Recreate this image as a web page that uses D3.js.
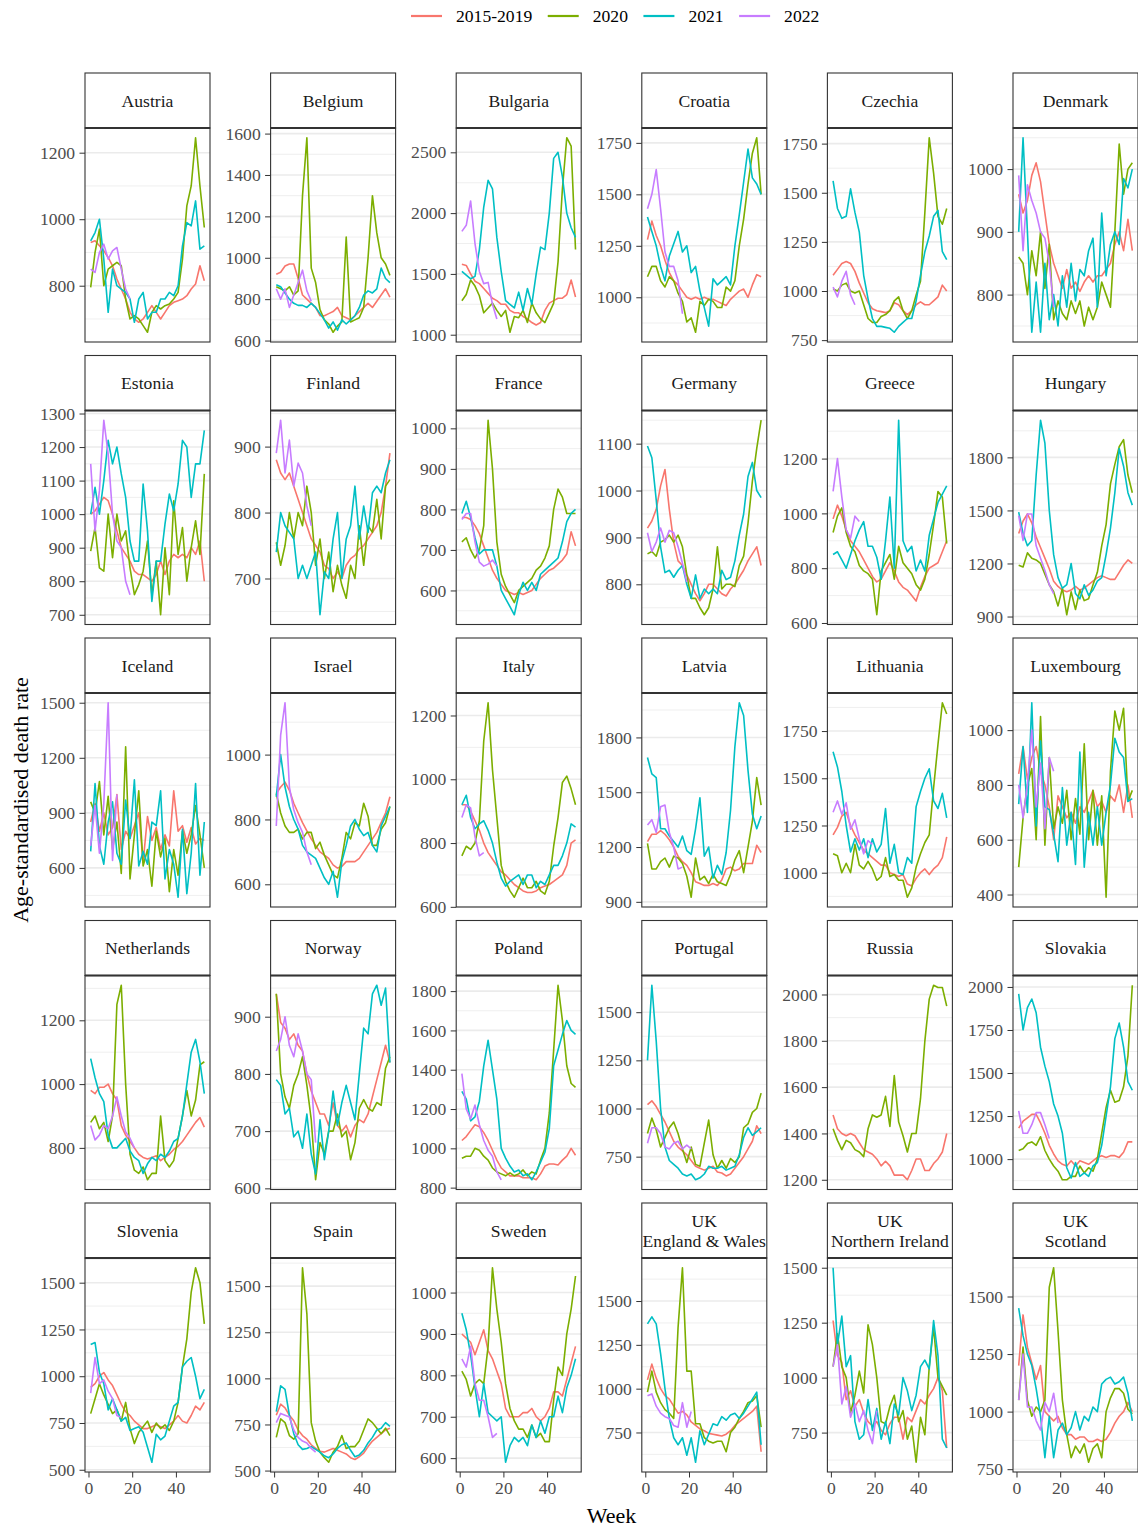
<!DOCTYPE html>
<meta charset="utf-8">
<style>

body {
  margin: 0;
  background: #ffffff;
}

svg {
  display: block;
  font-family: "Liberation Serif", "Times New Roman", serif;
}

.axis .tick text {
  font-size: 17.6px;
  fill: #4d4d4d;
}

.axis .tick line {
  stroke: #333333;
  stroke-width: 1;
}

.strip-text {
  font-size: 17.6px;
  fill: #1a1a1a;
  text-anchor: middle;
}

</style>
<svg width="1138" height="1530"></svg>
<script src="https://cdn.jsdelivr.net/npm/d3@7/dist/d3.min.js"></script>
<script>

// weeks sampled every second week
const weeks = [1,3,5,7,9,11,13,15,17,19,21,23,25,27,29,31,33,35,37,39,41,43,45,47,49,51,53];

const countries = ["Austria","Belgium","Bulgaria","Croatia","Czechia","Denmark",
  "Estonia","Finland","France","Germany","Greece","Hungary",
  "Iceland","Israel","Italy","Latvia","Lithuania","Luxembourg",
  "Netherlands","Norway","Poland","Portugal","Russia","Slovakia",
  "Slovenia","Spain","Sweden","UK\nEngland & Wales","UK\nNorthern Ireland","UK\nScotland"];

const seriesNames = ["2015-2019","2020","2021","2022"];
const seriesColours = ["#F8766D","#7CAE00","#00BFC4","#C77CFF"];

const rate2015_19 = {
  "Austria": [930,935,920,905,885,860,820,790,760,720,700,690,700,720,740,720,700,720,740,750,755,760,770,790,805,860,815],
  "Belgium": [920,930,960,970,970,900,820,800,780,760,720,720,730,740,760,720,710,700,720,740,760,780,760,790,820,850,810],
  "Bulgaria": [1580,1570,1500,1440,1420,1380,1340,1300,1280,1250,1250,1200,1180,1180,1150,1130,1100,1080,1100,1200,1260,1280,1300,1300,1330,1450,1310],
  "Croatia": [1280,1370,1300,1250,1180,1120,1080,1060,1030,1000,990,1000,990,1000,990,990,980,970,960,990,1010,1030,1040,1000,1060,1110,1100],
  "Czechia": [1080,1110,1140,1150,1140,1100,1040,990,940,910,900,895,890,900,940,930,900,880,900,930,945,930,930,950,970,1030,1000],
  "Denmark": [960,930,950,990,1010,980,930,880,850,830,810,840,810,820,805,820,830,820,830,830,840,850,880,900,870,920,870],
  "Estonia": [1000,1010,1030,1050,1040,1000,950,900,880,860,830,820,820,810,800,820,860,820,860,880,870,880,870,900,880,920,800],
  "Finland": [880,860,850,860,840,820,800,780,760,750,740,720,715,700,710,700,720,730,735,745,750,760,770,780,800,840,890],
  "France": [780,780,775,760,740,710,680,650,630,615,600,595,590,595,590,595,600,615,630,640,650,655,665,675,690,745,710],
  "Germany": [920,935,960,1010,1045,960,890,850,840,820,800,780,765,780,800,800,790,780,775,790,800,815,830,850,865,880,840],
  "Greece": [980,1030,990,940,900,880,860,830,800,770,750,760,790,820,790,750,730,720,700,680,730,770,800,810,820,860,900],
  "Hungary": [1370,1440,1480,1430,1350,1290,1230,1170,1100,1070,1050,1040,1050,1070,1050,1060,1080,1100,1120,1130,1120,1110,1110,1150,1190,1220,1200],
  "Iceland": [850,950,800,900,780,820,1000,700,800,760,830,900,630,880,750,820,700,780,720,1020,800,830,740,820,730,760,750],
  "Israel": [880,900,915,890,850,820,790,765,740,720,700,690,680,660,650,655,670,670,670,680,700,720,740,760,790,820,870],
  "Italy": [920,920,900,870,840,800,770,750,730,710,700,685,670,660,650,645,645,650,660,665,670,680,690,700,730,800,810],
  "Latvia": [1230,1270,1270,1290,1270,1240,1200,1150,1120,1100,1060,1010,1000,990,990,1000,990,1020,1080,1090,1070,1080,1110,1110,1110,1210,1170],
  "Lithuania": [1200,1240,1300,1320,1250,1200,1160,1120,1100,1080,1060,1040,1040,1000,990,980,990,940,930,970,1000,1020,990,1020,1040,1080,1190],
  "Luxembourg": [840,940,820,900,940,850,800,720,600,760,720,680,700,660,720,700,740,780,720,740,700,760,740,800,700,800,680],
  "Netherlands": [980,970,990,990,1000,970,950,870,840,820,800,780,770,765,770,775,760,770,780,795,805,820,840,860,880,895,865],
  "Norway": [940,890,880,860,870,850,840,800,770,750,730,730,710,750,710,700,710,690,710,720,715,730,760,790,820,850,820],
  "Poland": [1040,1060,1090,1120,1110,1080,1040,990,940,900,880,860,860,860,850,850,850,840,870,910,920,920,915,940,960,1000,965],
  "Portugal": [1020,1040,1010,970,930,880,830,800,780,760,730,700,690,680,690,700,670,665,650,660,690,720,750,790,830,910,870],
  "Russia": [1480,1420,1400,1390,1400,1390,1360,1330,1320,1310,1290,1260,1280,1260,1220,1220,1220,1200,1240,1290,1290,1240,1240,1270,1290,1320,1400],
  "Slovakia": [1180,1220,1240,1260,1260,1210,1150,1080,1030,990,970,960,990,960,990,980,970,990,1010,1020,1010,1020,1020,1010,1040,1100,1100],
  "Slovenia": [940,960,1000,1020,980,950,900,850,810,790,760,740,720,720,730,740,730,720,740,760,790,760,750,790,840,820,860],
  "Spain": [800,860,840,800,770,720,690,670,640,620,605,600,610,620,610,600,590,570,560,575,595,630,660,680,700,720,730],
  "Sweden": [900,890,880,850,880,910,860,840,810,780,720,700,700,700,710,710,720,700,690,700,720,760,760,750,790,830,870],
  "UK\nEngland & Wales": [1050,1140,1060,1000,960,940,900,860,870,850,810,790,770,760,745,740,735,730,740,760,790,810,830,850,870,900,640],
  "UK\nNorthern Ireland": [1260,1100,1070,900,940,870,900,840,800,780,800,760,740,790,820,820,720,820,800,850,900,880,920,950,1000,940,680],
  "UK\nScotland": [1200,1420,1280,1210,1140,1200,1000,980,960,980,930,900,900,880,890,890,870,870,880,870,880,910,950,980,1000,1040,1000]
};

const rate2020 = {
  "Austria": [795,900,970,800,850,860,870,860,760,700,710,700,680,660,720,740,730,740,745,760,780,880,1040,1100,1245,1100,975],
  "Belgium": [860,850,840,860,820,840,1300,1580,950,880,750,700,680,640,670,690,1100,690,700,710,760,1000,1300,1120,1000,970,915],
  "Bulgaria": [1280,1330,1450,1400,1320,1180,1220,1260,1200,1150,1200,1020,1150,1140,1200,1100,1260,1180,1130,1100,1180,1260,1600,2200,2620,2550,1700],
  "Croatia": [1100,1150,1150,1080,1050,1100,1080,1020,980,880,900,830,980,960,990,980,950,950,1050,1030,1080,1250,1380,1550,1700,1775,1500],
  "Czechia": [1010,1000,1030,1040,1000,990,1000,930,860,840,840,870,880,900,950,970,900,860,900,980,1050,1400,1780,1600,1380,1340,1420],
  "Denmark": [860,850,800,870,830,900,810,880,760,790,770,760,790,770,790,750,780,760,780,820,800,780,900,1040,960,1000,1010],
  "Estonia": [890,960,840,830,1000,870,1000,920,950,840,760,790,830,920,760,860,700,900,760,1040,880,960,800,900,980,880,1120],
  "Finland": [755,720,750,800,760,800,780,840,800,720,760,700,740,680,720,690,670,720,700,780,720,780,770,820,760,840,850],
  "France": [720,730,700,680,700,760,1020,900,720,640,610,590,570,600,610,620,630,650,660,680,710,800,850,830,790,790,790],
  "Germany": [865,870,860,890,895,905,890,905,880,820,770,770,750,735,750,790,880,790,800,800,795,840,860,930,1020,1090,1150],
  "Greece": [930,990,1020,930,880,860,810,790,780,760,630,790,820,850,760,880,820,800,780,740,720,760,850,960,1080,1060,890],
  "Hungary": [1190,1180,1260,1230,1220,1200,1140,1080,1040,960,1060,910,1040,940,1050,990,1000,1080,1150,1300,1420,1650,1760,1860,1900,1700,1600],
  "Iceland": [960,900,1070,780,990,700,850,570,1260,540,780,1020,610,700,500,800,660,760,470,700,560,800,680,780,940,780,600],
  "Israel": [880,820,780,760,760,770,740,760,760,710,730,690,660,630,620,680,760,740,790,780,850,810,720,720,770,790,840],
  "Italy": [760,790,780,800,870,1120,1240,1030,880,730,680,650,630,660,690,660,660,680,650,640,680,790,880,990,1010,970,920],
  "Latvia": [1220,1080,1080,1120,1140,1090,1150,1140,1110,1040,925,1140,1020,1040,1000,1050,1010,1000,990,1050,1130,1180,1060,1200,1340,1580,1430],
  "Lithuania": [1100,1090,1000,1050,1000,1150,1040,1020,1060,1020,960,980,1080,980,990,960,960,870,920,1030,1100,1160,1200,1450,1680,1900,1840],
  "Luxembourg": [500,680,800,860,600,1050,580,900,640,720,660,780,600,750,620,950,600,780,580,760,390,850,1070,1000,1080,740,780],
  "Netherlands": [880,900,860,880,820,900,1250,1310,1000,780,730,720,740,700,720,720,900,760,740,760,830,900,980,900,950,1060,1070],
  "Norway": [940,800,760,740,780,800,830,780,720,615,680,660,700,700,730,690,700,650,680,740,755,740,735,750,745,810,830],
  "Poland": [950,960,960,1000,990,960,940,900,880,870,860,875,860,870,890,860,880,870,940,1000,1180,1500,1830,1650,1420,1330,1310],
  "Portugal": [870,950,890,800,850,900,930,870,790,720,800,710,700,820,940,760,690,730,690,740,720,750,900,920,980,1000,1080],
  "Russia": [1420,1370,1330,1370,1360,1330,1320,1300,1420,1480,1470,1480,1560,1430,1650,1450,1390,1320,1400,1400,1550,1800,1980,2040,2030,2030,1950],
  "Slovakia": [1050,1060,1090,1100,1080,1130,1050,1000,960,930,880,880,900,900,960,920,950,930,1000,1150,1300,1400,1330,1340,1420,1600,2010],
  "Slovenia": [800,880,960,900,850,800,820,760,860,720,640,700,730,760,700,750,720,740,710,760,860,1050,1200,1450,1580,1500,1280],
  "Spain": [680,780,760,690,670,700,1600,1350,760,660,600,570,545,600,630,690,620,630,630,660,720,780,760,730,700,730,690],
  "Sweden": [810,790,750,780,790,780,870,1060,960,880,780,720,690,670,670,650,680,650,660,640,640,740,820,800,900,960,1040],
  "UK\nEngland & Wales": [980,1100,980,920,880,860,830,1350,1690,1100,1100,800,800,720,700,690,700,700,640,750,780,830,870,920,930,960,780],
  "UK\nNorthern Ireland": [1050,1200,1050,1000,840,920,1030,930,1240,1150,1000,800,790,870,920,800,850,720,780,615,820,740,1050,1230,1000,960,920],
  "UK\nScotland": [1050,1280,1050,980,1020,1000,1050,1540,1625,1350,1050,900,800,850,820,860,780,840,860,800,1000,1060,1100,1100,1080,1010,990]
};

const rate2021 = {
  "Austria": [935,960,1000,880,720,850,800,790,780,760,690,760,780,700,720,720,760,760,780,770,800,920,990,980,1055,910,920],
  "Belgium": [870,860,830,800,780,770,770,760,780,760,730,700,660,690,650,700,680,700,720,760,820,840,830,850,950,900,880],
  "Bulgaria": [1520,1490,1460,1480,1700,2050,2270,2200,1800,1520,1280,1250,1220,1350,1200,1380,1250,1500,1720,1700,2000,2450,2500,2300,2000,1880,1800],
  "Croatia": [1390,1320,1250,1150,1080,1200,1260,1320,1220,1250,1120,1150,1030,950,860,1090,1060,1080,1100,1060,1250,1400,1560,1720,1580,1550,1500],
  "Czechia": [1560,1420,1370,1380,1520,1400,1300,1080,960,860,820,820,815,810,790,820,840,860,860,950,1080,1200,1280,1380,1410,1200,1160],
  "Denmark": [900,1050,900,740,820,740,850,760,800,750,830,780,850,790,840,830,870,890,780,930,830,880,900,880,985,970,1000],
  "Estonia": [1000,1080,1000,1100,1220,1150,1200,1120,1050,920,860,860,1090,950,740,860,860,970,1060,1010,1090,1220,1200,1050,1150,1150,1250],
  "Finland": [740,800,780,770,760,700,720,700,720,740,645,710,700,760,800,700,760,780,840,760,810,770,830,840,830,860,880],
  "France": [790,820,780,730,690,700,700,700,660,600,580,560,540,590,620,600,620,600,640,650,660,670,680,720,770,790,800],
  "Germany": [1095,1070,980,880,825,830,815,830,840,800,770,820,770,790,780,790,780,830,810,815,850,905,950,1030,1060,1000,985],
  "Greece": [850,860,830,800,850,900,940,970,880,880,840,760,900,1060,800,1340,900,860,880,790,830,790,920,980,1040,1070,1100],
  "Hungary": [1490,1370,1300,1330,1700,2010,1880,1500,1250,1120,1060,1080,1200,1030,1000,1080,1020,1050,1100,1120,1250,1400,1600,1850,1750,1600,1530],
  "Iceland": [690,1060,720,620,850,960,680,620,970,760,1080,610,690,620,850,830,1020,540,700,620,440,810,460,680,1060,560,850],
  "Israel": [870,1000,900,840,800,770,720,700,690,680,650,620,600,640,560,670,720,780,800,770,750,760,720,700,780,810,840],
  "Italy": [920,950,880,845,860,870,840,800,740,690,665,680,690,700,670,700,700,660,680,670,700,730,730,760,800,860,850],
  "Latvia": [1690,1600,1580,1300,1300,1260,1230,1200,1260,1180,1160,1300,1470,1150,1200,1030,1100,1050,1170,1400,1750,1990,1920,1620,1380,1300,1370],
  "Lithuania": [1640,1560,1430,1250,1110,1180,1120,1180,1080,1180,1110,1150,1340,1050,1150,1000,990,1080,1050,1350,1430,1500,1550,1380,1340,1420,1290],
  "Luxembourg": [730,940,700,1100,650,960,720,710,620,520,790,580,700,510,920,500,700,580,720,580,700,800,970,920,900,740,750],
  "Netherlands": [1080,1020,970,945,840,800,800,815,830,790,770,760,720,750,770,760,780,770,790,820,830,900,1000,1100,1140,1070,970],
  "Norway": [790,780,730,740,690,700,670,730,660,625,720,650,700,770,710,750,780,750,720,800,880,870,940,955,920,950,820],
  "Poland": [1290,1250,1140,1160,1240,1420,1550,1400,1250,1000,950,910,880,890,860,870,840,880,930,980,1100,1420,1500,1580,1650,1600,1580],
  "Portugal": [1250,1640,1350,1000,800,730,710,690,660,650,660,630,640,660,700,690,690,700,680,690,700,760,850,900,860,880,900],
  "Slovakia": [1960,1750,1880,1930,1850,1650,1540,1450,1320,1250,1150,950,890,980,900,920,900,960,980,1080,1250,1420,1700,1790,1650,1450,1400],
  "Slovenia": [1170,1180,1020,960,820,880,820,760,780,710,720,730,700,620,540,690,660,680,760,840,860,1050,1080,1100,1000,880,930],
  "Spain": [820,960,940,800,700,640,615,620,630,615,600,580,570,590,620,640,650,610,575,585,610,650,680,720,730,760,740],
  "Sweden": [950,910,850,770,700,780,710,700,690,700,590,630,650,640,650,630,680,650,690,660,700,700,750,710,770,800,840],
  "UK\nEngland & Wales": [1370,1410,1370,1200,1000,830,720,680,720,620,720,580,760,680,740,800,790,840,820,850,860,830,860,900,940,980,680],
  "UK\nNorthern Ireland": [1500,1150,1280,1050,1100,800,720,740,900,760,860,720,800,700,880,830,1000,940,850,920,1050,1080,1040,1260,1100,720,680],
  "UK\nScotland": [1450,1330,1250,1200,1100,980,800,980,800,920,950,900,930,1000,920,980,960,1020,1000,1120,1140,1150,1120,1130,1150,1080,960]
};

// 2022 only covers the first weeks of the year
const rate2022 = {
  "Austria": [850,840,900,925,880,905,915,850,790,760],
  "Belgium": [850,800,850,760,820,880,940,840,790],
  "Bulgaria": [1850,1900,2100,1750,1520,1420,1430,1250,1130],
  "Croatia": [1430,1500,1620,1430,1220,1150,1150,1080,920],
  "Czechia": [1020,970,1050,1100,980,930],
  "Denmark": [990,870,975,950,930,900,890,850,780],
  "Estonia": [1150,950,1070,1280,1180,1000,920,900,800,760],
  "Finland": [890,940,860,910,840,875,860,810,780],
  "France": [775,790,790,720,670,660,665,675,660],
  "Germany": [910,870,890,920,890,915,910,880,845,805],
  "Greece": [1080,1200,1060,940,910,990,970],
  "Hungary": [1470,1330,1480,1480,1300,1230,1160,1080,1030],
  "Iceland": [720,940,680,950,1500,640,1000],
  "Israel": [780,1060,1160,900,830,790,760,700,660],
  "Italy": [880,920,910,820,760,770],
  "Latvia": [1320,1350,1280,1420,1430,1280,1200,1080,1090],
  "Lithuania": [1320,1380,1310,1370,1230,1280,1180,1100,1170,1150],
  "Luxembourg": [800,680,800,1000,720,880,640,900,850],
  "Netherlands": [870,825,840,870,860,900,960,900,850,830,800],
  "Norway": [840,860,900,850,830,870,840,800,790,680],
  "Poland": [1380,1200,1150,1220,1120,1040,990,960,880,840],
  "Portugal": [820,900,900,870,800,790,820,830,790,810,790],
  "Slovakia": [1280,1150,1150,1200,1270,1270,1200,1120],
  "Slovenia": [910,1100,960,980,920,880,790,780],
  "Spain": [760,810,800,790,720,680,660,650,620,600],
  "Sweden": [840,820,870,780,740,740,700,650,660],
  "UK\nEngland & Wales": [960,970,900,860,840,830,790,780,920,780,870],
  "UK\nNorthern Ireland": [1050,1150,880,960,820,880,800,850,760,700,850],
  "UK\nScotland": [1050,1250,1020,1020,960,920,1040,1000,1080,950]
};

const yBreaks = {
  "Austria": [800,1000,1200],
  "Belgium": [600,800,1000,1200,1400,1600],
  "Bulgaria": [1000,1500,2000,2500],
  "Croatia": [1000,1250,1500,1750],
  "Czechia": [750,1000,1250,1500,1750],
  "Denmark": [800,900,1000],
  "Estonia": [700,800,900,1000,1100,1200,1300],
  "Finland": [700,800,900],
  "France": [600,700,800,900,1000],
  "Germany": [800,900,1000,1100],
  "Greece": [600,800,1000,1200],
  "Hungary": [900,1200,1500,1800],
  "Iceland": [600,900,1200,1500],
  "Israel": [600,800,1000],
  "Italy": [600,800,1000,1200],
  "Latvia": [900,1200,1500,1800],
  "Lithuania": [1000,1250,1500,1750],
  "Luxembourg": [400,600,800,1000],
  "Netherlands": [800,1000,1200],
  "Norway": [600,700,800,900],
  "Poland": [800,1000,1200,1400,1600,1800],
  "Portugal": [750,1000,1250,1500],
  "Russia": [1200,1400,1600,1800,2000],
  "Slovakia": [1000,1250,1500,1750,2000],
  "Slovenia": [500,750,1000,1250,1500],
  "Spain": [500,750,1000,1250,1500],
  "Sweden": [600,700,800,900,1000],
  "UK\nEngland & Wales": [750,1000,1250,1500],
  "UK\nNorthern Ireland": [750,1000,1250,1500],
  "UK\nScotland": [750,1000,1250,1500]
};

const xBreaks = [0,20,40];

const allSeries = [rate2015_19, rate2020, rate2021, rate2022];

const svg = d3.select("svg");

const left0 = 85, top0 = 73;
const colStep = 185.6, rowStep = 282.5;
const panelW = 125, stripH = 55, plotH = 214;
const nCols = 6;

// legend
const legend = svg.append("g");
let lx = 411;
seriesNames.forEach((name, i) => {
  legend.append("line")
    .attr("x1", lx).attr("x2", lx + 31)
    .attr("y1", 16).attr("y2", 16)
    .attr("stroke", seriesColours[i])
    .attr("stroke-width", 2.2);
  const t = legend.append("text")
    .attr("x", lx + 45).attr("y", 16)
    .attr("dominant-baseline", "central")
    .attr("font-size", "17.6px")
    .attr("fill", "#000")
    .text(name);
  lx = lx + 45 + t.node().getComputedTextLength() + 15.5;
});

countries.forEach((country, i) => {
  const col = i % nCols, row = Math.floor(i / nCols);
  const px = left0 + col * colStep;
  const sy = top0 + row * rowStep;
  const py = sy + stripH;
  const g = svg.append("g");

  const values = allSeries.flatMap(s => s[country] || []);
  const [lo, hi] = d3.extent(values);
  const pad = (hi - lo) * 0.05;
  const xPad = (weeks[weeks.length - 1] - weeks[0]) * 0.05;

  const x = d3.scaleLinear()
    .domain([weeks[0] - xPad, weeks[weeks.length - 1] + xPad])
    .range([px, px + panelW]);
  const y = d3.scaleLinear()
    .domain([lo - pad, hi + pad])
    .range([py + plotH, py]);

  const breaks = yBreaks[country].filter(b => b >= y.domain()[0] && b <= y.domain()[1]);
  const step = yBreaks[country][1] - yBreaks[country][0];
  const minor = [yBreaks[country][0] - step / 2].concat(yBreaks[country].map(b => b + step / 2))
    .filter(v => v > y.domain()[0] && v < y.domain()[1]);

  g.append("rect")
    .attr("x", px).attr("y", py)
    .attr("width", panelW).attr("height", plotH)
    .attr("fill", "#ffffff");

  g.selectAll(".minor").data(minor).join("line")
    .attr("class", "minor")
    .attr("x1", px).attr("x2", px + panelW)
    .attr("y1", d => y(d)).attr("y2", d => y(d))
    .attr("stroke", "#ebebeb")
    .attr("stroke-width", 0.8);

  g.selectAll(".major").data(breaks).join("line")
    .attr("class", "major")
    .attr("x1", px).attr("x2", px + panelW)
    .attr("y1", d => y(d)).attr("y2", d => y(d))
    .attr("stroke", "#ebebeb")
    .attr("stroke-width", 1.6);

  const line = d3.line()
    .x(d => x(d[0]))
    .y(d => y(d[1]));

  allSeries.forEach((s, k) => {
    const vals = s[country];
    if (!vals) return;
    const pts = vals.map((v, j) => [weeks[j], v]).filter(d => d[0] !== undefined);
    g.append("path")
      .datum(pts)
      .attr("d", line)
      .attr("fill", "none")
      .attr("stroke", seriesColours[k])
      .attr("stroke-width", 1.6)
      .attr("stroke-linejoin", "round");
  });

  g.append("rect")
    .attr("x", px).attr("y", py)
    .attr("width", panelW).attr("height", plotH)
    .attr("fill", "none")
    .attr("stroke", "#333333")
    .attr("stroke-width", 1.1);

  // strip
  g.append("rect")
    .attr("x", px).attr("y", sy)
    .attr("width", panelW).attr("height", stripH)
    .attr("fill", "#ffffff")
    .attr("stroke", "#333333")
    .attr("stroke-width", 1.1);
  g.append("line")
    .attr("x1", px).attr("x2", px + panelW)
    .attr("y1", py).attr("y2", py)
    .attr("stroke", "#333333")
    .attr("stroke-width", 2.2);

  const lines = country.split("\n");
  const lineH = 20;
  lines.forEach((txt, k) => {
    g.append("text")
      .attr("class", "strip-text")
      .attr("x", px + panelW / 2)
      .attr("y", sy + stripH / 2 + (k - (lines.length - 1) / 2) * lineH)
      .attr("dominant-baseline", "central")
      .text(txt);
  });

  // y axis
  g.append("g")
    .attr("class", "axis")
    .attr("transform", `translate(${px},0)`)
    .call(d3.axisLeft(y).tickValues(breaks).tickFormat(d3.format("d")).tickSize(5.5).tickPadding(4.4))
    .call(a => a.attr("font-family", null).attr("font-size", null))
    .call(a => a.select(".domain").remove());

  // x axis only on bottom row
  if (row === Math.floor((countries.length - 1) / nCols)) {
    g.append("g")
      .attr("class", "axis")
      .attr("transform", `translate(0,${py + plotH})`)
      .call(d3.axisBottom(x).tickValues(xBreaks).tickFormat(d3.format("d")).tickSize(5.5).tickPadding(4.4))
      .call(a => a.attr("font-family", null).attr("font-size", null))
      .call(a => a.select(".domain").remove());
  }
});

// axis titles
svg.append("text")
  .attr("x", 611.5).attr("y", 1515)
  .attr("text-anchor", "middle")
  .attr("dominant-baseline", "central")
  .attr("font-size", "22px")
  .attr("fill", "#000")
  .text("Week");

svg.append("text")
  .attr("transform", "translate(20,800) rotate(-90)")
  .attr("text-anchor", "middle")
  .attr("dominant-baseline", "central")
  .attr("font-size", "22px")
  .attr("fill", "#000")
  .text("Age-standardised death rate");

</script>
